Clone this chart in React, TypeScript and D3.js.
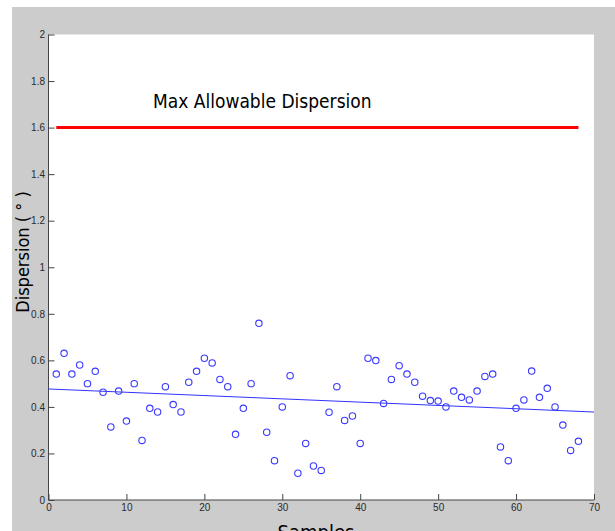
import React, { useRef, useEffect } from "react";
import * as d3 from "d3";

// dispersion per sample (degrees)
const dispersion = [
  0.541, 0.63, 0.541, 0.58, 0.5, 0.553, 0.463, 0.314, 0.468, 0.339,
  0.5, 0.256, 0.394, 0.378, 0.487, 0.41, 0.378, 0.506, 0.553, 0.609,
  0.589, 0.518, 0.487, 0.282, 0.394, 0.5, 0.759, 0.291, 0.169, 0.4,
  0.534, 0.115, 0.243, 0.146, 0.127, 0.377, 0.487, 0.342, 0.361, 0.243,
  0.609, 0.599, 0.415, 0.518, 0.577, 0.541, 0.506, 0.446, 0.427, 0.425,
  0.4, 0.468, 0.441, 0.43, 0.468, 0.531, 0.541, 0.228, 0.169, 0.394,
  0.43, 0.554, 0.441, 0.48, 0.4, 0.322, 0.213, 0.252,
];
const samples = dispersion.map((_, i) => i + 1);

// linear fit endpoints as drawn
const trendX = [0, 70];
const trendY = [0.477, 0.378];

const limitX = [1, 68];
const limitValue = 1.6;

const xTicks = [0, 10, 20, 30, 40, 50, 60, 70];
const yTicks = [0, 0.2, 0.4, 0.6, 0.8, 1, 1.2, 1.4, 1.6, 1.8, 2];

const labelFont = "DejaVu Sans Condensed, DejaVu Sans, sans-serif";

function DispersionChart() {
  const svgRef = useRef<SVGSVGElement>(null);

  useEffect(() => {
    const svg = d3.select(svgRef.current);
    svg.selectAll("*").remove();

    const width = 615;
    const height = 531;
    const margin = { top: 34.5, right: 21, bottom: 31, left: 48.5 };

    svg.attr("width", width).attr("height", height);

    // figure background
    svg.append("rect").attr("width", width).attr("height", height).attr("fill", "#fff");
    svg
      .append("rect")
      .attr("x", 12)
      .attr("y", 7)
      .attr("width", width - 12)
      .attr("height", height - 7)
      .attr("fill", "#cccccc");

    const x = d3.scaleLinear().domain([0, 70]).range([margin.left, width - margin.right]);
    const y = d3.scaleLinear().domain([0, 2]).range([height - margin.bottom, margin.top]);

    // axes area
    svg
      .append("rect")
      .attr("x", x(0))
      .attr("y", y(2))
      .attr("width", x(70) - x(0))
      .attr("height", y(0) - y(2))
      .attr("fill", "#fff");

    const xAxis = (g: any) =>
      g
        .attr("transform", `translate(0, ${y(0)})`)
        .call(d3.axisBottom(x).tickValues(xTicks).tickSize(-6).tickPadding(4).tickFormat(d3.format("d")))
        .call((g: any) => g.select(".domain").attr("stroke", "#444").attr("d", `M${x(0)},0H${x(70)}`));

    const yAxis = (g: any) =>
      g
        .attr("transform", `translate(${x(0)}, 0)`)
        .call(d3.axisLeft(y).tickValues(yTicks).tickSize(-6).tickPadding(3.5).tickFormat((d: any) => `${d}`))
        .call((g: any) => g.select(".domain").attr("stroke", "#444").attr("d", `M0,${y(0)}V${y(2)}`));

    for (const ax of [svg.append("g").call(xAxis), svg.append("g").call(yAxis)]) {
      ax.selectAll(".tick line").attr("stroke", "#444");
      ax.selectAll(".tick text")
        .attr("fill", "#2a2a2a")
        .attr("font-family", "Liberation Sans, Arial, sans-serif")
        .attr("font-size", 10);
    }

    // limit line
    svg
      .append("line")
      .attr("x1", x(limitX[0]))
      .attr("x2", x(limitX[1]))
      .attr("y1", y(limitValue))
      .attr("y2", y(limitValue))
      .attr("stroke", "#ff0000")
      .attr("stroke-width", 3);

    svg
      .append("text")
      .attr("x", 153)
      .attr("y", 107.5)
      .attr("font-family", labelFont)
      .attr("font-size", 19)
      .attr("fill", "#000")
      .text("Max Allowable Dispersion");

    // trend line
    svg
      .append("line")
      .attr("x1", x(trendX[0]))
      .attr("x2", x(trendX[1]))
      .attr("y1", y(trendY[0]))
      .attr("y2", y(trendY[1]))
      .attr("stroke", "#3333ff")
      .attr("stroke-width", 1);

    // samples
    svg
      .append("g")
      .selectAll("circle")
      .data(dispersion)
      .join("circle")
      .attr("cx", (_d, i) => x(samples[i]))
      .attr("cy", (d) => y(d))
      .attr("r", 3.2)
      .attr("fill", "none")
      .attr("stroke", "#3a3aff")
      .attr("stroke-width", 1.1);

    // axis labels
    svg
      .append("text")
      .attr("transform", `translate(29, 252) rotate(-90)`)
      .attr("text-anchor", "middle")
      .attr("font-family", labelFont)
      .attr("font-size", 18)
      .attr("fill", "#000")
      .text("Dispersion ( ° )");

    svg
      .append("text")
      .attr("x", 316)
      .attr("y", 539)
      .attr("text-anchor", "middle")
      .attr("font-family", labelFont)
      .attr("font-size", 20)
      .attr("fill", "#000")
      .text("Samples");
  }, []);

  return (
    <div style={{ position: "fixed", left: 0, top: 0 }}>
      <svg ref={svgRef}></svg>
    </div>
  );
}

export default function App() {
  return <DispersionChart />;
}
